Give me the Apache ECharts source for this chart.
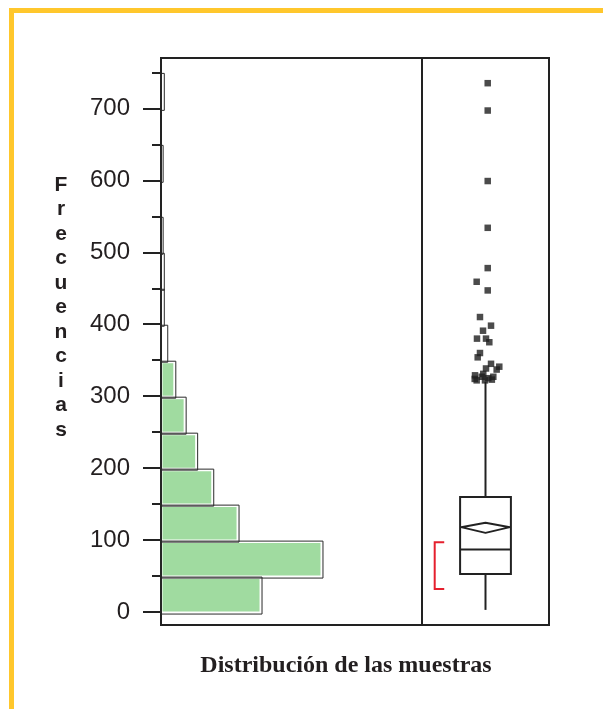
<!DOCTYPE html>
<html><head><meta charset="utf-8">
<script src="https://cdn.jsdelivr.net/npm/echarts@6/dist/echarts.min.js"></script>
<style>html,body{margin:0;padding:0;background:#fff}#c{width:603px;height:709px}</style>
</head><body><div id="c"></div>
<script>
// ---- data ----
const binStarts = [0, 50, 100, 150, 200, 250, 300, 350, 400, 450, 500, 550, 600, 650, 700];
const binWidth = 50;
const binCounts = [87, 140, 67, 45, 31, 21, 12, 5, 2, 2, 1, 0, 1, 0, 2];
const majorTicks = [0, 100, 200, 300, 400, 500, 600, 700];
const minorTicks = [50, 150, 250, 350, 450, 550, 650, 750];
const boxStats = [3, 53, 87, 160, 320]; // low whisker, Q1, median, Q3, high whisker
const meanValue = 118;
const meanCI = [110, 124];
const shortestHalf = [32, 97];
const outlierValues  = [735, 697, 599, 534, 478, 459, 447, 410, 398, 391, 380, 380, 375, 360, 354, 345, 341, 338.5, 337, 331, 329, 327, 325, 322, 322, 324, 323, 327];
const outlierOffsets = [0.035, 0.035, 0.035, 0.035, 0.035, -0.139, 0.035, -0.087, 0.087, -0.039, -0.134, 0.008, 0.06, -0.087, -0.123, 0.087, 0.217, 0.008, 0.176, -0.035, -0.165, 0.123, 0.044, -0.139, -0.008, -0.17, 0.1, -0.06];
const titleText = 'Distribución de las muestras';
const yName = 'Frecuencias';

// ---- chart ----
const chart = echarts.init(document.getElementById('c'), null, {renderer: 'canvas'});
const ink = '#231F20';
const yMin = -18, yMax = 770;

function renderHist(params, api) {
  const s = api.value(0), e = api.value(1), c = api.value(2);
  if (!(c > 0)) return;
  const p0 = api.coord([0, s]);
  const p1 = api.coord([c, e]);
  const x0 = p0[0], yb = p0[1], x1 = p1[0], yt = p1[1];
  const children = [];
  if (x1 - x0 > 8) {
    children.push({type: 'rect', shape: {x: x0 + 1.5, y: yt + 3, width: x1 - x0 - 3, height: yb - yt - 3.5},
      style: {fill: '#A0DBA0'}});
  }
  children.push({type: 'rect', shape: {x: x0, y: yt + 1, width: x1 - x0 + 1, height: yb - yt + 1},
    style: {fill: 'none', stroke: '#2a2a2a', lineWidth: 1}});
  return {type: 'group', children: children};
}

function renderBox(params, api) {
  const lo = boxStats[0], q1 = boxStats[1], med = boxStats[2], q3 = boxStats[3], hi = boxStats[4];
  const hw = 0.4;
  const L = api.coord([-hw, 0])[0], R = api.coord([hw, 0])[0], C = api.coord([0, 0])[0];
  const Y = v => api.coord([0, v])[1];
  const ls = {stroke: '#222', lineWidth: 2, fill: 'none', lineJoin: 'bevel'};
  const bx0 = api.coord([-0.8, 0])[0], bx1 = api.coord([-0.65, 0])[0];
  return {type: 'group', children: [
    {type: 'line', shape: {x1: C, y1: Y(lo), x2: C, y2: Y(q1)}, style: ls},
    {type: 'line', shape: {x1: C, y1: Y(q3), x2: C, y2: Y(hi)}, style: ls},
    {type: 'polygon', shape: {points: [[L + 1, Y(meanValue)], [C, Y(meanCI[1])], [R - 1, Y(meanValue)], [C, Y(meanCI[0])]]}, style: ls},
    {type: 'rect', shape: {x: L, y: Y(q3), width: R - L, height: Y(q1) - Y(q3)}, style: {stroke: '#222', lineWidth: 2, fill: 'none'}},
    {type: 'line', shape: {x1: L, y1: Y(med), x2: R, y2: Y(med)}, style: ls},
    {type: 'polyline', shape: {points: [[bx1, Y(shortestHalf[1])], [bx0, Y(shortestHalf[1])], [bx0, Y(shortestHalf[0])], [bx1, Y(shortestHalf[0])]]},
      style: {stroke: '#E5202E', lineWidth: 2, fill: 'none'}}
  ]};
}

const option = {
  backgroundColor: '#ffffff',
  animation: false,
  grid: [
    {left: 161, top: 58, width: 261, height: 567, show: true, borderColor: '#222', borderWidth: 2, backgroundColor: 'transparent'},
    {left: 422, top: 58, width: 127, height: 567, show: true, borderColor: '#222', borderWidth: 2, backgroundColor: 'transparent'}
  ],
  xAxis: [
    {type: 'value', gridIndex: 0, min: 0, max: 227, show: false},
    {type: 'value', gridIndex: 1, min: -1, max: 1, show: false}
  ],
  yAxis: [
    {type: 'value', gridIndex: 0, position: 'left', min: yMin, max: yMax,
      axisLine: {show: true, lineStyle: {color: '#222', width: 2}},
      axisTick: {show: true, customValues: majorTicks, length: 18, lineStyle: {color: '#222', width: 2}},
      axisLabel: {show: true, customValues: majorTicks, margin: 31, fontSize: 24, color: ink, fontFamily: 'Liberation Sans, Arial, sans-serif'},
      splitLine: {show: false}},
    {type: 'value', gridIndex: 0, position: 'left', offset: 0, min: yMin, max: yMax,
      axisLine: {show: false},
      axisTick: {show: true, customValues: minorTicks, length: 9, lineStyle: {color: '#222', width: 2}},
      axisLabel: {show: false},
      splitLine: {show: false}},
    {type: 'value', gridIndex: 1, min: yMin, max: yMax, show: false, splitLine: {show: false}}
  ],
  series: [
    {type: 'custom', xAxisIndex: 0, yAxisIndex: 0, renderItem: renderHist,
      encode: {x: 2, y: [0, 1]},
      data: binStarts.map((s, i) => [s, s + binWidth, binCounts[i]]), silent: true, clip: false},
    {type: 'custom', xAxisIndex: 1, yAxisIndex: 2, renderItem: renderBox,
      data: [[0, boxStats[0]]], silent: true, clip: false},
    {type: 'scatter', xAxisIndex: 1, yAxisIndex: 2, symbol: 'rect', symbolSize: 6.5,
      itemStyle: {color: '#1e1e1e'}, silent: true,
      data: outlierValues.map((v, i) => [outlierOffsets[i], v])}
  ],
  graphic: [
    {type: 'rect', left: 9, top: 8, shape: {width: 600, height: 5}, style: {fill: '#FFC72C'}},
    {type: 'rect', left: 9, top: 8, shape: {width: 5, height: 710}, style: {fill: '#FFC72C'}},
    {type: 'text', x: 61, y: 307.5, style: {text: yName.split('').join('\n'), fill: ink,
      font: 'bold 21px "Liberation Sans", Arial, sans-serif', lineHeight: 24.5,
      textAlign: 'center', textVerticalAlign: 'middle'}},
    {type: 'text', x: 346, y: 666, style: {text: titleText, fill: ink,
      font: 'bold 24px "Liberation Serif", "Times New Roman", serif',
      textAlign: 'center', textVerticalAlign: 'middle'}}
  ]
};
chart.setOption(option);
</script>
</body></html>
